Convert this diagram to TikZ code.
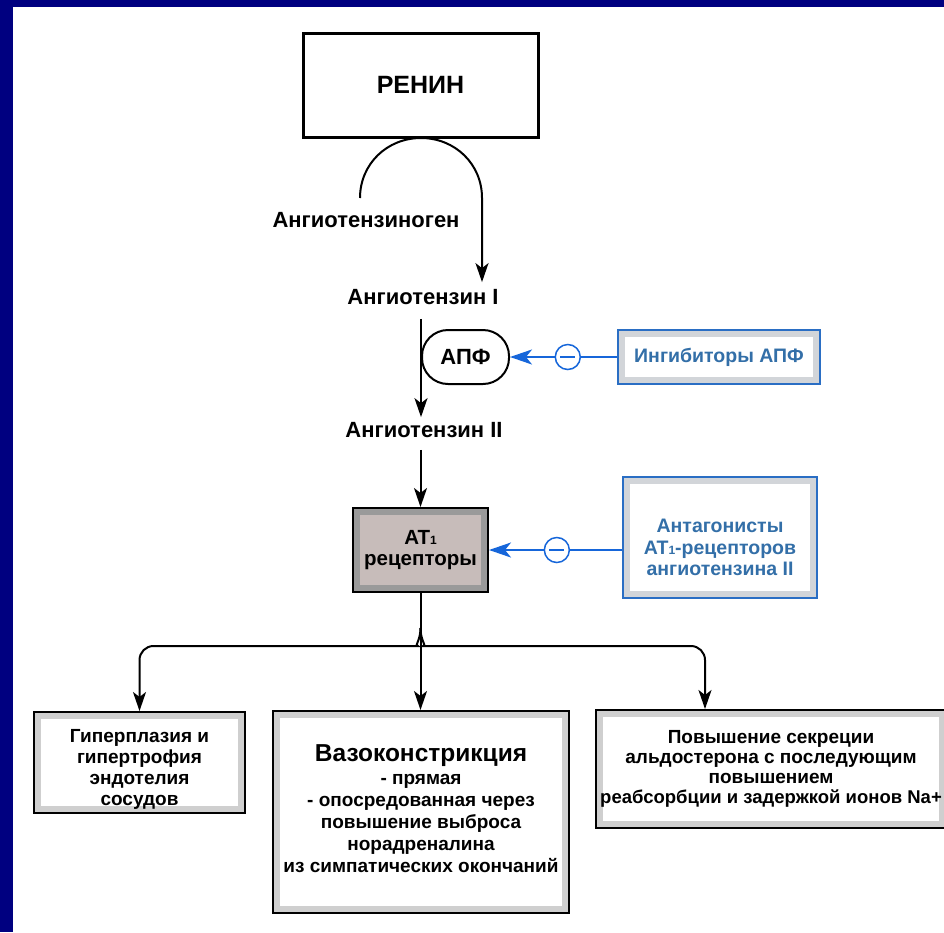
\documentclass[tikz,border=0pt]{standalone}
\usepackage{fontspec}
\setmainfont{Liberation Sans}
\usepackage{tikz}
\usetikzlibrary{arrows.meta}
\definecolor{frameblue}{HTML}{000080}
\definecolor{boxblue}{HTML}{2A6EC4}
\definecolor{textblue}{HTML}{336FA8}
\definecolor{arrowblue}{HTML}{1666DA}
\definecolor{bandgray}{HTML}{CFCFCF}
\definecolor{blueband}{HTML}{D2D5D9}
\definecolor{atband}{HTML}{9A9A9A}
\definecolor{atfill}{HTML}{C7BCBA}
\newcommand{\lowsub}[1]{\raisebox{-0.5pt}{\fontsize{12}{12}\selectfont#1}}

\begin{document}
\begin{tikzpicture}[x=1pt,y=-1pt,
  txt/.style={inner sep=0pt,font=\fontsize{22}{26}\selectfont\bfseries},
  band/.style={path picture={\fill[#1]([shift={(7pt,7pt)}]path picture bounding box.south west)rectangle([shift={(-7pt,-7pt)}]path picture bounding box.north east);}},
  blackbox/.style={draw=black,line width=2pt,fill=bandgray,band=white,align=center,inner sep=0pt,font=\fontsize{19}{21}\selectfont\bfseries},
  bluebox/.style={draw=boxblue,line width=2pt,fill=blueband,band=white,text=textblue,align=center,inner sep=0pt,font=\fontsize{19.5}{21.5}\selectfont\bfseries},
  minuscirc/.style={circle,draw=arrowblue,fill=white,line width=1.5pt,minimum size=25pt,inner sep=0pt,
    path picture={\draw[-,arrowblue,line width=1.5pt]([xshift=-7.5pt]path picture bounding box.center)--([xshift=7.5pt]path picture bounding box.center);}},
  arr/.style={-{Stealth[length=19pt,width=13pt,inset=5pt]},line width=2pt},
  bluearr/.style={-{Stealth[length=22pt,width=15pt,inset=6pt]},draw=arrowblue,line width=2pt}]
\fill[frameblue](0,0)rectangle(944,932);
\fill[white](13,7)rectangle(944,932);
\useasboundingbox(0,0)rectangle(944,932);

\node[draw,line width=3pt,minimum width=235pt,minimum height=104pt,font=\fontsize{25}{30}\selectfont\bfseries](renin)at(420.5,85){РЕНИН};
\node[txt](agen)at(366,220){Ангиотензиноген};
\coordinate(agtop)at(360,198);
\node[txt](ang1)at(423,297){Ангиотензин I};
\node[draw,line width=2pt,rounded corners=26pt,minimum width=87pt,minimum height=54pt,anchor=west,font=\fontsize{22}{26}\selectfont\bfseries](apf)at(421,357){АПФ};
\node[txt](ang2)at(424,430){Ангиотензин II};
\node[bluebox,minimum width=202pt,minimum height=54pt](inh)at(719,357){Ингибиторы АПФ};
\node[blackbox,fill=atband,band=atfill,minimum width=135pt,minimum height=84pt,font=\fontsize{20.5}{21}\selectfont\bfseries](at1)at(420.5,550){AT\lowsub{1}\\рецепторы};
\node[bluebox,minimum width=194pt,minimum height=121pt](ant)at(720,537.5){\rule{0pt}{34pt}Антагонисты\\AT\lowsub{1}-рецепторов\\ангиотензина II};
\coordinate(split)at(420.5,628);
\node[blackbox,minimum width=211pt,minimum height=101pt](gip)at(139.5,762.5){\rule{0pt}{26pt}Гиперплазия и\\гипертрофия\\эндотелия\\сосудов};
\node[blackbox,minimum width=296pt,minimum height=202pt,font=\fontsize{19}{22}\selectfont\bfseries](vaso)at(421,812){{\fontsize{24.5}{28}\selectfont Вазоконстрикция}\\[1pt]- прямая\\- опосредованная через\\повышение выброса\\норадреналина\\из симпатических окончаний\rule[-6pt]{0pt}{6pt}};
\node[blackbox,minimum width=350pt,minimum height=118pt,font=\fontsize{19}{20}\selectfont\bfseries](ald)at(771,769){Повышение секреции\\альдостерона с последующим\\повышением\\{\fontsize{18.5}{20}\selectfont реабсорбции и задержкой ионов Na+}};

\draw[arr](agtop)..controls(360,164)and(387,138)..(421,138)..controls(455,138)and(482,164)..(482,198)--([xshift=59pt,yshift=7pt]ang1.north);
\draw[arr]([yshift=-14pt]ang1.south-|apf.west)--([yshift=5pt]ang2.north-|apf.west);
\draw[arr]([yshift=-12pt]ang2.south-|at1.north)--(at1.north);
\draw[arr](at1.south)--(vaso.north-|at1.south);
\draw[arr,rounded corners=14pt](split)..controls(420.5,641)and(414,646)..(404,646)-|(gip.north);
\draw[arr,rounded corners=14pt](split)..controls(420.5,641)and(427,646)..(437,646)-|([xshift=-66pt]ald.north);
\draw[bluearr](inh.west)--node[minuscirc,pos=.46]{}(apf.east);
\draw[bluearr](at1.east-|ant.west)--node[minuscirc,pos=.49]{}(at1.east);
\end{tikzpicture}
\end{document}
